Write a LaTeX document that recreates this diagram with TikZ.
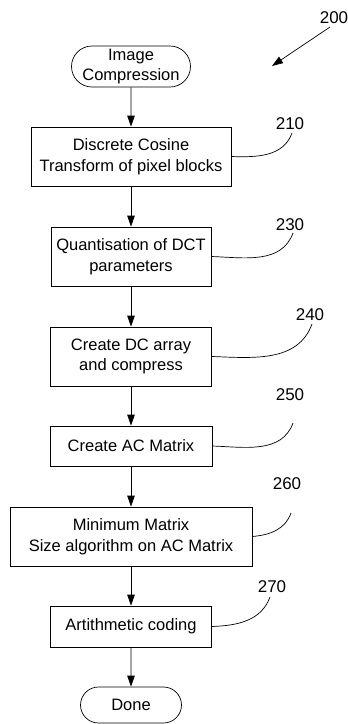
\documentclass[tikz,border=0pt]{standalone}
\usepackage{fontspec}
\setmainfont{Liberation Sans}
\usetikzlibrary{arrows.meta,shapes.misc,positioning}

\begin{document}
\begin{tikzpicture}[x=1pt,y=1pt,line width=0.7pt,
  box/.style={draw,rectangle,align=center,inner sep=0pt,font=\fontsize{16.5}{20.5}\selectfont},
  term/.style={draw,rounded rectangle,align=center,inner sep=0pt,font=\fontsize{16.5}{20.5}\selectfont},
  num/.style={inner sep=0pt,font=\fontsize{17}{20}\selectfont},
  flow/.style={-{Triangle[length=11pt,width=7.5pt]}},
  lead/.style={-}]

\useasboundingbox (0,0) rectangle (348,-724);

\coordinate (t200) at (330,-27) {};
\coordinate (h200) at (272,-66) {};
\coordinate (t210) at (292,-133) {};
\coordinate (t230) at (293,-233) {};
\coordinate (t240) at (312,-324) {};
\coordinate (t250) at (293,-423) {};
\coordinate (t260) at (291,-513) {};
\coordinate (t270) at (270,-597) {};

\node[term,minimum width=119,minimum height=41] (start) at (131,-66.5) {Image\\Compression};
\node[box,minimum width=200,minimum height=59] (b210) at (131,-156.5) {Discrete Cosine\\Transform of pixel blocks};
\node[box,minimum width=160,minimum height=59] (b230) at (131,-256.5) {Quantisation of DCT\\parameters};
\node[box,minimum width=161,minimum height=59] (b240) at (131,-356.5) {Create DC array\\and compress};
\node[box,minimum width=162,minimum height=40] (b250) at (131,-446) {Create AC Matrix};
\node[box,minimum width=242,minimum height=59] (b260) at (131,-536.5) {Minimum Matrix\\Size algorithm on AC Matrix};
\node[box,minimum width=161,minimum height=41] (b270) at (131,-626.5) {Artithmetic coding};
\node[term,minimum width=101,minimum height=36] (done) at (131,-705) {Done};

\node[num] (lab200) at (334,-18) {200};
\node[num] (lab210) at (290,-124) {210};
\node[num] (lab230) at (290,-224.5) {230};
\node[num] (lab240) at (310,-315) {240};
\node[num] (lab250) at (290,-395) {250};
\node[num] (lab260) at (287,-484) {260};
\node[num] (lab270) at (272,-587) {270};

\draw[flow] (start) -- (b210);
\draw[flow] (b210) -- (b230);
\draw[flow] (b230) -- (b240);
\draw[flow] (b240) -- (b250);
\draw[flow] (b250) -- (b260);
\draw[flow] (b260) -- (b270);
\draw[flow] (b270) -- (done);

\draw[flow] (t200) -- (h200);

\draw[lead] (b210.east) to[out=-2,in=-110] (t210);
\draw[lead] (b230.east) to[out=-2,in=-110] (t230);
\draw[lead] (b240.east) to[out=-2,in=-110] (t240);
\draw[lead] (b250.east) to[out=-2,in=-110] (t250);
\draw[lead] (b260.east) to[out=5,in=-110] (t260);
\draw[lead] (b270.east) to[out=2,in=-110] (t270);

\end{tikzpicture}
\end{document}
